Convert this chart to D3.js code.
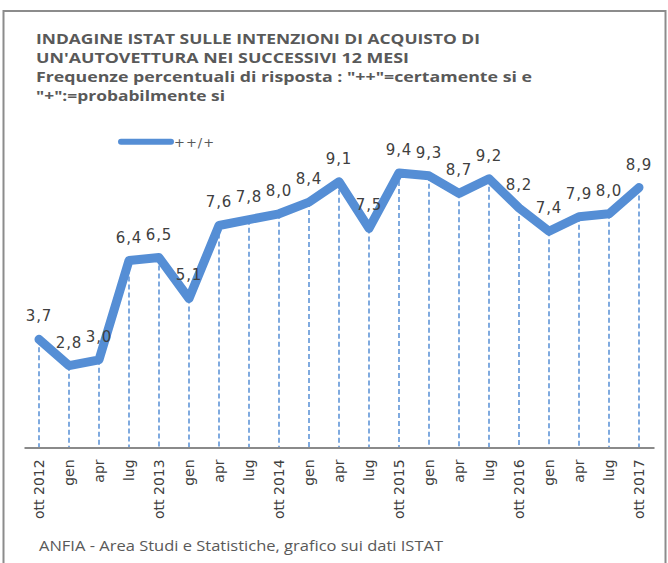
<!DOCTYPE html>
<html>
<head>
<meta charset="utf-8">
<script src="https://cdn.jsdelivr.net/npm/d3@7"></script>
<style>
  html, body { margin: 0; padding: 0; background: #fff; }
  svg { display: block; }
</style>
</head>
<body>
<script>
// ---- Data ----
const categories = ["ott 2012","gen","apr","lug","ott 2013","gen","apr","lug","ott 2014","gen","apr","lug","ott 2015","gen","apr","lug","ott 2016","gen","apr","lug","ott 2017"];
const values = [3.7, 2.8, 3.0, 6.4, 6.5, 5.1, 7.6, 7.8, 8.0, 8.4, 9.1, 7.5, 9.4, 9.3, 8.7, 9.2, 8.2, 7.4, 7.9, 8.0, 8.9];
const seriesName = "++/+";
const titleLines = [
  "INDAGINE ISTAT SULLE INTENZIONI DI ACQUISTO DI",
  "UN'AUTOVETTURA NEI SUCCESSIVI 12 MESI",
  "Frequenze percentuali di risposta : \"++\"=certamente si e",
  "\"+\":=probabilmente si"
];
const footer = "ANFIA - Area Studi e Statistiche, grafico sui dati ISTAT";

const W = 668, H = 563;
const blue = "#558ED5";
const textGrey = "#595959";

const svg = d3.select("body").append("svg").attr("width", W).attr("height", H);

// border
svg.append("rect").attr("x", 3.5).attr("y", 11).attr("width", 662).attr("height", 570)
  .attr("fill", "none").attr("stroke", "#8c8c8c").attr("stroke-width", 2);

// title
const titleWidths = [444, 373, 496, 189];
const titleBase = [44, 63, 82, 101];
titleLines.forEach((t, i) => {
  svg.append("text")
    .attr("x", 36).attr("y", titleBase[i])
    .attr("font-family", "'Open Sans', 'DejaVu Sans', sans-serif")
    .attr("font-weight", "bold").attr("font-size", 15)
    .attr("fill", textGrey)
    .attr("textLength", titleWidths[i]).attr("lengthAdjust", "spacingAndGlyphs")
    .text(t);
});

// scales
const x = d3.scalePoint().domain(d3.range(categories.length)).range([24, 654]).padding(0.5);
const y = d3.scaleLinear().domain([0, 10]).range([447.4, 155.4]);

// drop lines
svg.append("g").selectAll("line").data(values).join("line")
  .attr("x1", (d, i) => x(i)).attr("x2", (d, i) => x(i))
  .attr("y1", d => y(d)).attr("y2", y(0))
  .attr("stroke", blue).attr("stroke-width", 1.5)
  .attr("stroke-dasharray", "5,3");

// axis
const xAxis = d3.axisBottom(x).tickSize(0).tickFormat(i => categories[i]);
const gx = svg.append("g").attr("transform", `translate(0,${y(0)})`).call(xAxis);
gx.select(".domain").attr("stroke", "#8a8a8a").attr("stroke-width", 2);
gx.selectAll(".tick text")
  .attr("font-family", "'DejaVu Sans', sans-serif").attr("font-size", 14)
  .attr("fill", "#404040")
  .attr("transform", "rotate(-90)")
  .attr("text-anchor", "end")
  .attr("x", -12).attr("y", 0).attr("dy", "0.35em");

// line
const line = d3.line().x((d, i) => x(i)).y(d => y(d));
svg.append("path").datum(values)
  .attr("d", line).attr("fill", "none")
  .attr("stroke", blue).attr("stroke-width", 9)
  .attr("stroke-linejoin", "round").attr("stroke-linecap", "round");

// data labels
svg.append("g").selectAll("text").data(values).join("text")
  .attr("x", (d, i) => x(i)).attr("y", d => y(d) - 18)
  .attr("text-anchor", "middle")
  .attr("font-family", "'DejaVu Sans', sans-serif").attr("font-size", 15)
  .attr("letter-spacing", 0.8)
  .attr("fill", "#404040")
  .text(d => d.toFixed(1).replace(".", ","));

// legend
svg.append("line").attr("x1", 121).attr("x2", 171).attr("y1", 141.7).attr("y2", 141.7)
  .attr("stroke", blue).attr("stroke-width", 6).attr("stroke-linecap", "round");
svg.append("text").attr("x", 174).attr("y", 146.5)
  .attr("font-family", "'DejaVu Sans', sans-serif").attr("font-size", 13)
  .attr("letter-spacing", 1)
  .attr("fill", textGrey).text(seriesName);

// footer
svg.append("text").attr("x", 39).attr("y", 551)
  .attr("font-family", "'Open Sans', 'DejaVu Sans', sans-serif").attr("font-size", 14)
  .attr("fill", textGrey)
  .attr("textLength", 404).attr("lengthAdjust", "spacingAndGlyphs")
  .text(footer);
</script>
</body>
</html>
